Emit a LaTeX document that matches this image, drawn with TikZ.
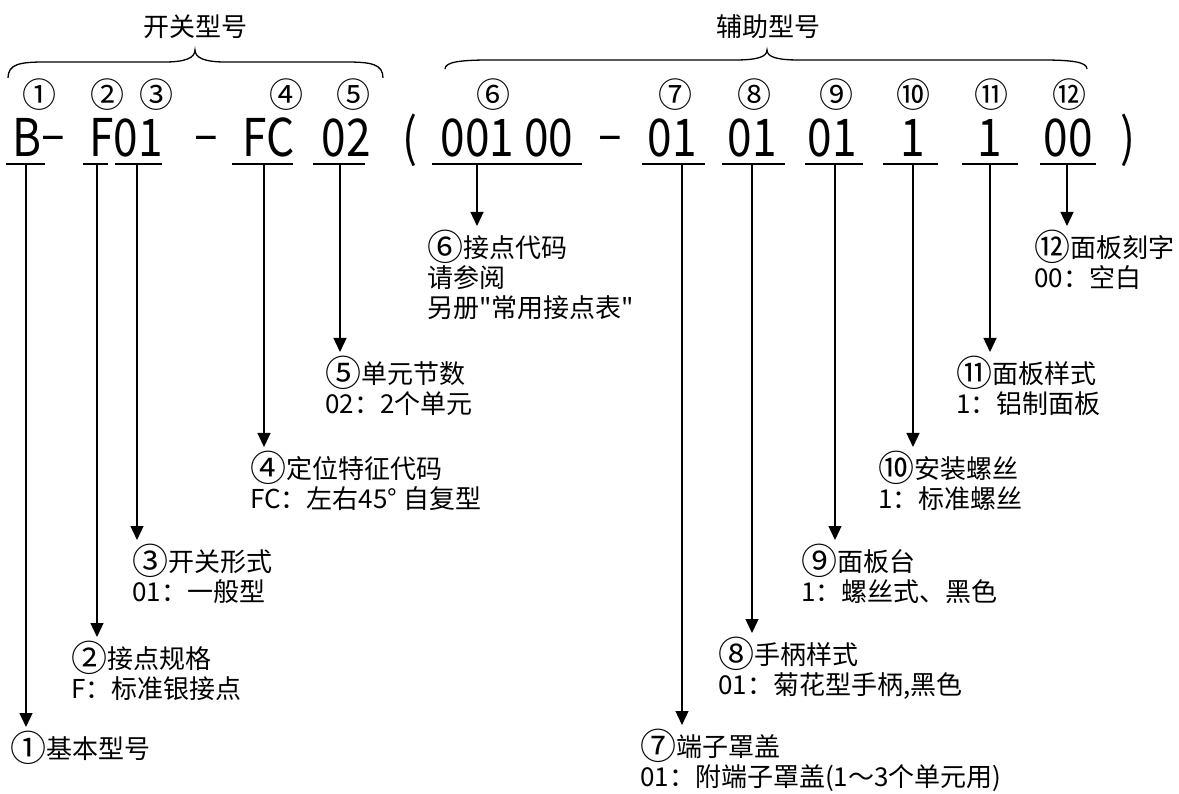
\documentclass[tikz,border=0pt]{standalone}
\usepackage{fontspec}
\usepackage{tikz}
\usetikzlibrary{arrows.meta}
\setmainfont{Noto Sans CJK SC}
\newfontfamily\labelfont{Noto Sans CJK SC}
\newfontfamily\codefont[FakeStretch=0.85]{Noto Sans CJK SC}
\newcommand\circnum[1]{\raisebox{-3pt}{\fontsize{36}{30}\selectfont #1}}
\newcommand\codedash{\raisebox{4pt}{–}}

\begin{document}
\begin{tikzpicture}[x=1pt, y=-1pt,
    codetext/.style={anchor=base, inner sep=0pt, font=\codefont\fontsize{52}{52}\selectfont},
    marknum/.style={inner sep=0pt, font=\labelfont\fontsize{34}{34}\selectfont},
    grouptitle/.style={inner sep=0pt, font=\labelfont\fontsize{26}{30}\selectfont},
    partlabel/.style={anchor=north west, align=left, inner xsep=0pt, inner ysep=4pt,
                      font=\labelfont\fontsize{26}{30}\selectfont},
    pointer/.style={line width=1.3pt, -{Triangle[width=13pt, length=14pt]}},
    thinline/.style={line width=1.3pt}]
    \useasboundingbox (0,0) rectangle (1179,794);

    % group titles and braces
    \node[grouptitle] (switchtitle) at (195,27) {开关型号};
    \node[grouptitle] (auxtitle) at (768,27) {辅助型号};
    \draw[thinline] (8,78) .. controls (8,64) and (20,62) .. (45,62) -- (165,62)
        .. controls (185,62) and (195,58) .. (195,50)
        .. controls (195,58) and (205,62) .. (225,62) -- (346,62)
        .. controls (371,62) and (383,64) .. (383,78);
    \draw[thinline] (445,69) .. controls (445,62) and (460,60) .. (490,60) -- (735,60)
        .. controls (757,60) and (767,57) .. (767,50)
        .. controls (767,57) and (777,60) .. (799,60) -- (1042,60)
        .. controls (1072,60) and (1087,62) .. (1087,69);

    % circled position numbers
    \foreach \i/\x/\mk in {1/39/①, 2/107/②, 3/156/③, 4/286/④, 5/353/⑤, 6/493/⑥,
                           7/675/⑦, 8/754/⑧, 9/836/⑨, 10/913/⑩, 11/991/⑪, 12/1069/⑫}
        \node[marknum] (n\i) at (\x,95) {\mk};

    % the model code
    \foreach \i/\x/\t in {1/39/B\codedash, 2/126/F01, 3/206/\codedash, 4/269/FC, 5/346/02,
                          6/410/{(}, 7/507/001 00, 8/610/\codedash, 9/672/01, 10/752/01,
                          11/832/01, 12/913/1, 13/990/1, 14/1068/00, 15/1128/{)}}
        \node[codetext] (c\i) at (\x,157) {\t};

    % underlines
    \foreach \a/\b in {6/45, 83/108, 115/162, 232/293, 313/365, 432/582,
                       642/705, 722/785, 805/863, 883/938, 962/1018, 1040/1096}
        \draw[thinline] (\a,164) -- (\b,164);

    % explanations
    \foreach \i/\ax/\ay/\lx/\txt in {
        1/26/727/10/{\circnum{①}基本型号},
        2/97/637/71/{\circnum{②}接点规格\\F：标准银接点},
        3/137/540/132/{\circnum{③}开关形式\\01：一般型},
        4/264/447/250/{\circnum{④}定位特征代码\\FC：左右45° 自复型},
        5/340/352/325/{\circnum{⑤}单元节数\\02：2个单元},
        6/477/226/427/{\circnum{⑥}接点代码\\请参阅\\另册"常用接点表"},
        7/682/725/640/{\circnum{⑦}端子罩盖\\01：附端子罩盖(1～3个单元用)},
        8/752/633/718/{\circnum{⑧}手柄样式\\01：菊花型手柄,黑色},
        9/835/540/801/{\circnum{⑨}面板台\\1：螺丝式、黑色},
        10/913/447/878/{\circnum{⑩}安装螺丝\\1：标准螺丝},
        11/990/352/956/{\circnum{⑪}面板样式\\1：铝制面板},
        12/1067/226/1034/{\circnum{⑫}面板刻字\\00：空白}}
    {
        \coordinate (u\i) at (\ax,164);
        \node[partlabel] (l\i) at (\lx,\ay) {\txt};
        \draw[pointer] (u\i) -- (u\i |- l\i.north);
    }
\end{tikzpicture}
\end{document}
